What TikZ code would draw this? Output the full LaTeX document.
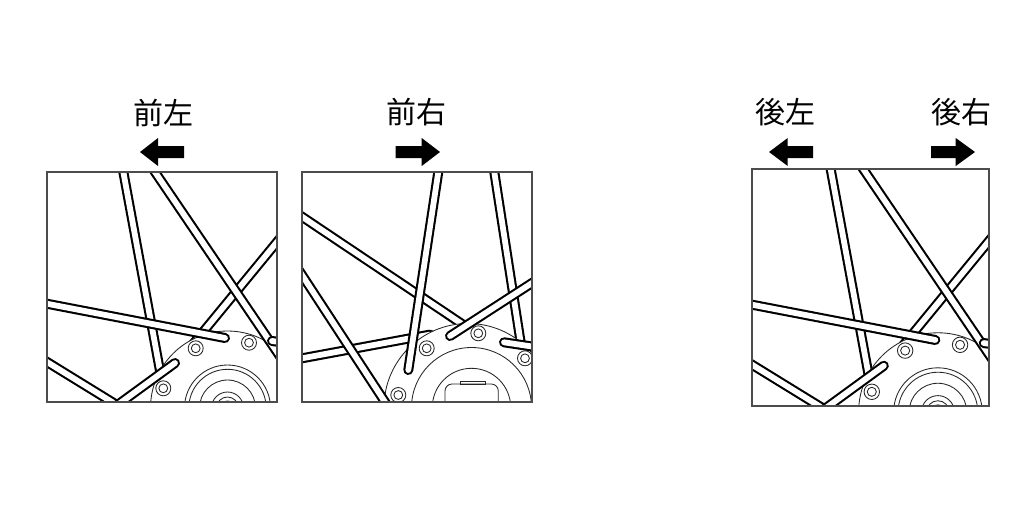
\documentclass[tikz,border=0pt]{standalone}
\usepackage{fontspec}
\newfontfamily\jpfont{Noto Sans CJK JP}
\tikzset{
  sout/.style={line width=10pt, line cap=round, black},
  sin/.style={line width=5.8pt, line cap=round, white},
  thinln/.style={line width=0.85pt, black!85},
  boxln/.style={line width=1.3pt, black!70},
  lbl/.style={font=\jpfont\fontsize{30}{32}\selectfont, inner sep=0pt},
  arr/.style={fill=black}
}
\newcommand\spk[2]{\draw[sout] #1 -- #2; \draw[sin] #1 -- #2;}
\newcommand\hole[1]{\draw[thinln, fill=white] #1 circle (7.5); \draw[thinln] #1 circle (4.4);}
\newcommand\panelA{%
  \begin{scope}
    \clip (0,0) rectangle (230,230);
    \spk{(242,55.4)}{(144.9,173.5)}
    \spk{(74.5,-10)}{(114.5,207)}
    \spk{(-10,183.8)}{(80,239.2)}
    \fill[white] (180.5,236) circle (77);
    \draw[thinln] (180.5,236) circle (77);
    \spk{(101.2,-10)}{(240,194.7)}
    \spk{(225,169)}{(255,173)}
    \hole{(148.7,176.3)}
    \hole{(202,170.7)}
    \hole{(116.3,216.3)}
    \foreach \r in {43,38.7,28,16,11,7} {\draw[thinln] (180.5,236) circle (\r);}
    \spk{(-10,129.8)}{(178,166)}
    \spk{(128,191)}{(60,240.6)}
  \end{scope}
  \draw[boxln] (0,0) rectangle (230,230);
}
\newcommand\panelB{%
  \begin{scope}
    \clip (0,0) rectangle (230,230);
    \spk{(190.75,-10)}{(218.9,172)}
    \spk{(-10,38)}{(172,160)}
    \spk{(-10,188.15)}{(128,162.6)}
    \fill[white] (166,235.5) circle (84);
    \draw[thinln] (166,235.5) circle (84);
    \spk{(-10,87.7)}{(90,240.7)}
    \hole{(124.7,176.3)}
    \hole{(176.3,161.3)}
    \hole{(223,186.3)}
    \hole{(96.3,223)}
    \draw[thinln] (169.5,235.5) circle (60);
    \draw[thinln] (169.5,235.5) circle (39.2);
    \draw[thinln] (143,240) -- (143,219) arc[start angle=180, end angle=270, radius=7]
       -- (189.3,212) arc[start angle=270, end angle=360, radius=7] -- (196.3,240);
    \draw[thinln] (158,212) rectangle (183,209.5);
    \spk{(245,101.3)}{(148,164)}
    \spk{(202,170.3)}{(250,177.5)}
    \spk{(137.8,-10)}{(106.3,198)}
  \end{scope}
  \draw[boxln] (0,0) rectangle (230,230);
}
\begin{document}
\begin{tikzpicture}[x=1pt, y=-1pt]
  \useasboundingbox (0,0) rectangle (1024,504);
  \fill[white] (0,0) rectangle (1024,504);
  % panels
  \begin{scope}[shift={(47,172)}]\panelA\end{scope}
  \begin{scope}[shift={(302,172)}]\panelB\end{scope}
  \begin{scope}[shift={(752,169)}, scale=1.03]\panelA\end{scope}
  % labels
  \node[lbl] (fl) at (163,112.5) {前左};
  \node[lbl] (fr) at (416.7,112) {前右};
  \node[lbl] (rl) at (785,111.7) {後左};
  \node[lbl] (rr) at (961.7,111.7) {後右};
  % arrows
  \fill[arr] (140,152) -- (158,138) -- (158,146) -- (184,146) -- (184,158) -- (158,158) -- (158,166) -- cycle;
  \fill[arr] (440,152) -- (421.7,138) -- (421.7,146) -- (395.7,146) -- (395.7,158) -- (421.7,158) -- (421.7,166) -- cycle;
  \fill[arr] (769,152) -- (787.7,138) -- (787.7,146) -- (813,146) -- (813,158) -- (787.7,158) -- (787.7,166) -- cycle;
  \fill[arr] (975,152) -- (955.7,138) -- (955.7,146) -- (931,146) -- (931,158) -- (955.7,158) -- (955.7,166) -- cycle;
\end{tikzpicture}
\end{document}
